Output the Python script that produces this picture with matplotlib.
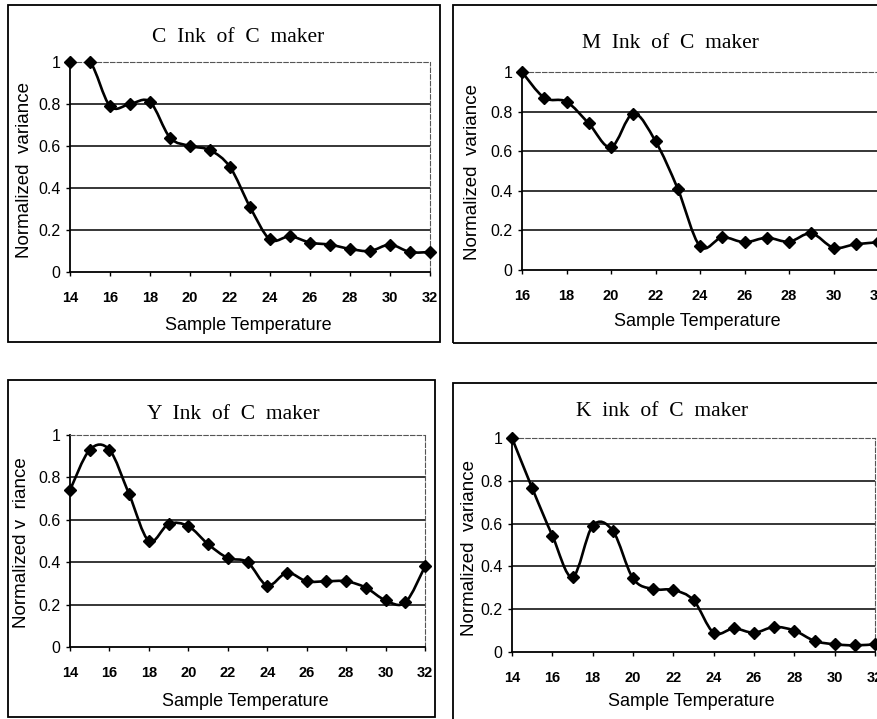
import numpy as np
import matplotlib
matplotlib.use("Agg")
from matplotlib import pyplot as plt
from matplotlib.path import Path
from matplotlib.patches import PathPatch, Rectangle

W, H = 877, 719

temps_c = list(range(14, 33))
var_c = [1.0, 1.0, 0.79, 0.80, 0.81, 0.64, 0.60, 0.58, 0.50, 0.31,
         0.155, 0.17, 0.14, 0.13, 0.11, 0.10, 0.13, 0.095, 0.095]

temps_m = list(range(16, 33))
var_m = [1.0, 0.87, 0.85, 0.74, 0.62, 0.79, 0.65, 0.41, 0.12, 0.165,
         0.14, 0.163, 0.143, 0.185, 0.113, 0.13, 0.14]

temps_y = list(range(14, 33))
var_y = [0.74, 0.93, 0.93, 0.72, 0.50, 0.58, 0.57, 0.485, 0.42, 0.40,
         0.29, 0.35, 0.31, 0.31, 0.31, 0.28, 0.22, 0.21, 0.38]

temps_k = list(range(14, 33))
var_k = [1.0, 0.766, 0.544, 0.35, 0.59, 0.566, 0.344, 0.294, 0.29, 0.242,
         0.09, 0.11, 0.09, 0.117, 0.10, 0.052, 0.036, 0.031, 0.036]

titles = ["C  Ink  of  C  maker", "M  Ink  of  C  maker",
          "Y  Ink  of  C  maker", "K  ink  of  C  maker"]
ylabels = ["Normalized  variance", "Normalized  variance",
           "Normalized v  riance", "Normalized  variance"]
xlabel = "Sample Temperature"
yticks = [0, 0.2, 0.4, 0.6, 0.8, 1]
ytick_labels = ["0", "0.2", "0.4", "0.6", "0.8", "1"]

# layout in pixels: axes box (x0, x1, ytop, ybottom), panel border, text spots
panels = [
    dict(ax=(70, 430, 62, 272), border=(8, 5, 440, 342),
         title=(238, 37), xl=(248, 325), yl=(25, 170)),
    dict(ax=(522, 878, 72, 270), border=(453, 5, 890, 343),
         title=(670, 43), xl=(697, 322), yl=(472, 172)),
    dict(ax=(70, 425, 435, 647), border=(8, 380, 435, 717),
         title=(233, 415), xl=(245, 702), yl=(22, 543)),
    dict(ax=(512, 875, 438, 652), border=(453, 383, 890, 730),
         title=(662, 412), xl=(691, 702), yl=(470, 548)),
]
series = [(temps_c, var_c), (temps_m, var_m), (temps_y, var_y), (temps_k, var_k)]


def smooth_path(x, y):
    # Catmull-Rom style smoothing drawn as cubic Bezier segments
    pts = np.column_stack([x, y]).astype(float)
    ext = np.vstack([pts[0], pts, pts[-1]])
    verts = [pts[0]]
    codes = [Path.MOVETO]
    for i in range(1, len(ext) - 2):
        p0, p1, p2, p3 = ext[i - 1], ext[i], ext[i + 1], ext[i + 2]
        verts += [p1 + (p2 - p0) / 6, p2 - (p3 - p1) / 6, p2]
        codes += [Path.CURVE4] * 3
    return Path(verts, codes)


fig = plt.figure(figsize=(W / 100, H / 100), dpi=100)
fig.patch.set_facecolor("white")

for p, (xs, ys), title, ylab in zip(panels, series, titles, ylabels):
    x0, x1, yt, yb = p["ax"]
    ax = fig.add_axes([x0 / W, 1 - yb / H, (x1 - x0) / W, (yb - yt) / H])
    ax.set_xlim(xs[0], xs[-1])
    ax.set_ylim(0, 1)
    ax.set_facecolor("none")

    for y in yticks[1:-1]:
        ax.axhline(y, color="black", lw=1.1, zorder=1)

    ax.add_patch(PathPatch(smooth_path(xs, ys), fill=False, color="black",
                           lw=1.9, zorder=3))
    ax.plot(xs, ys, ls="none", marker="D", ms=6.5, color="black", zorder=4,
            clip_on=False)

    ax.set_xticks(xs[::2])
    ax.set_xticklabels([str(t) for t in xs[::2]])
    ax.set_yticks(yticks)
    ax.set_yticklabels(ytick_labels)
    ax.tick_params(axis="x", length=3, pad=11, labelsize=10.5, width=1)
    ax.tick_params(axis="y", length=3, pad=4, labelsize=11.5, width=1)
    for lab in ax.get_xticklabels() + ax.get_yticklabels():
        lab.set_fontfamily("Liberation Sans")
    for lab in ax.get_xticklabels():
        lab.set_fontweight("bold")

    for side in ["left", "bottom"]:
        ax.spines[side].set_linewidth(1.3)
    for side in ["top", "right"]:
        ax.spines[side].set_linestyle((0, (4, 2)))
        ax.spines[side].set_linewidth(0.8)
        ax.spines[side].set_color("#555555")

    tx, ty = p["title"]
    fig.text(tx / W, 1 - ty / H, title, ha="center", va="center",
             family="Liberation Serif", fontsize=15.5)
    lx, ly = p["xl"]
    fig.text(lx / W, 1 - ly / H, xlabel, ha="center", va="center",
             family="Liberation Sans", fontsize=13)
    vx, vy = p["yl"]
    fig.text(vx / W, 1 - vy / H, ylab, ha="center", va="center",
             rotation=90, family="Liberation Sans", fontsize=13.5)

    bx0, by0, bx1, by1 = p["border"]
    fig.patches.append(Rectangle((bx0 / W, 1 - by1 / H), (bx1 - bx0) / W,
                                 (by1 - by0) / H, transform=fig.transFigure,
                                 fill=False, lw=1.3, color="black"))

fig.savefig("out.png", dpi=100)
